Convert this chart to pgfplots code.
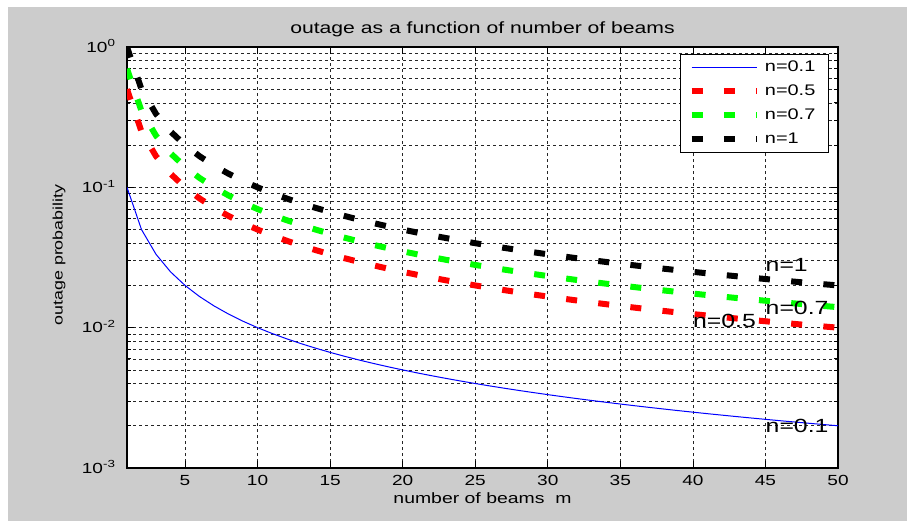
\documentclass[border=0pt]{standalone}
\usepackage{pgfplots}
\pgfplotsset{compat=1.18}
\usepackage{pgfplotstable}
\usepackage{fontspec}
\setmainfont[FakeStretch=1.3]{Liberation Sans}

\definecolor{figgrey}{RGB}{204,204,204}

% outage probability per number of beams m, one column per n
\pgfplotstableread{
m  a          b          c          d
1  0.1        0.5        0.7        1
2  0.05       0.25       0.35       0.5
3  0.033333   0.166667   0.233333   0.333333
4  0.025      0.125      0.175      0.25
5  0.02       0.1        0.14       0.2
6  0.016667   0.083333   0.116667   0.166667
7  0.014286   0.071429   0.1        0.142857
8  0.0125     0.0625     0.0875     0.125
9  0.011111   0.055556   0.077778   0.111111
10 0.01       0.05       0.07       0.1
11 0.0090909  0.0454545  0.0636364  0.0909091
12 0.0083333  0.0416667  0.0583333  0.0833333
13 0.0076923  0.0384615  0.0538462  0.0769231
14 0.0071429  0.0357143  0.05       0.0714286
15 0.0066667  0.0333333  0.0466667  0.0666667
16 0.00625    0.03125    0.04375    0.0625
17 0.0058824  0.0294118  0.0411765  0.0588235
18 0.0055556  0.0277778  0.0388889  0.0555556
19 0.0052632  0.0263158  0.0368421  0.0526316
20 0.005      0.025      0.035      0.05
21 0.0047619  0.0238095  0.0333333  0.047619
22 0.0045455  0.0227273  0.0318182  0.0454545
23 0.0043478  0.0217391  0.0304348  0.0434783
24 0.0041667  0.0208333  0.0291667  0.0416667
25 0.004      0.02       0.028      0.04
26 0.0038462  0.0192308  0.0269231  0.0384615
27 0.0037037  0.0185185  0.0259259  0.037037
28 0.0035714  0.0178571  0.025      0.0357143
29 0.0034483  0.0172414  0.0241379  0.0344828
30 0.0033333  0.0166667  0.0233333  0.0333333
31 0.0032258  0.016129   0.0225806  0.0322581
32 0.003125   0.015625   0.021875   0.03125
33 0.0030303  0.0151515  0.0212121  0.030303
34 0.0029412  0.0147059  0.0205882  0.0294118
35 0.0028571  0.0142857  0.02       0.0285714
36 0.0027778  0.0138889  0.0194444  0.0277778
37 0.0027027  0.0135135  0.0189189  0.027027
38 0.0026316  0.0131579  0.0184211  0.0263158
39 0.0025641  0.0128205  0.0179487  0.025641
40 0.0025     0.0125     0.0175     0.025
41 0.002439   0.0121951  0.0170732  0.0243902
42 0.002381   0.0119048  0.0166667  0.0238095
43 0.0023256  0.0116279  0.0162791  0.0232558
44 0.0022727  0.0113636  0.0159091  0.0227273
45 0.0022222  0.0111111  0.0155556  0.0222222
46 0.0021739  0.0108696  0.0152174  0.0217391
47 0.0021277  0.0106383  0.0148936  0.0212766
48 0.0020833  0.0104167  0.0145833  0.0208333
49 0.0020408  0.0102041  0.0142857  0.0204082
50 0.002      0.01       0.014      0.02
}\outage

\begin{document}
\begin{tikzpicture}
% figure window: white canvas, grey panel
\fill[white] (0,0) rectangle (687.75pt,391.5pt);
\fill[figgrey] (6pt,0.75pt) rectangle (680.25pt,386.25pt);
\begin{axis}[
    at={(95.25pt,40.5pt)}, anchor=south west,
    scale only axis,
    width=533.25pt, height=315.75pt,
    ymode=log,
    xmin=1, xmax=50,
    ymin=1e-3, ymax=1,
    xtick={5,10,15,20,25,30,35,40,45,50},
    xticklabels={5,10,15,20,25,30,35,40,45,50},
    ytick={0.001,0.01,0.1,1},
    yticklabels={10\smash{\textsuperscript{-3}},10\smash{\textsuperscript{-2}},10\smash{\textsuperscript{-1}},10\smash{\textsuperscript{0}}},
    tick label style={font=\fontsize{11}{13}\selectfont},
    xticklabel shift=2pt,
    yticklabel shift=5pt,
    grid=both,
    major grid style={black!85, line width=0.45pt, dash pattern=on 2.25pt off 2.25pt},
    minor grid style={black!85, line width=0.45pt, dash pattern=on 2.25pt off 2.25pt},
    tick align=inside,
    xtick pos=both, ytick pos=both,
    major tick length=5pt, minor tick length=3pt,
    tick style={black, line width=0.6pt},
    axis line style={black, line width=1pt},
    axis background/.style={fill=white},
    title={outage as a function of number of beams},
    every axis title shift=0pt,
    title style={at={(axis description cs:0.5,1.041)}, anchor=center, font=\fontsize{12.2}{14}\selectfont},
    xlabel={number of beams\ \ m},
    xlabel style={at={(axis description cs:0.5,-0.0713)}, anchor=center, font=\fontsize{11.2}{13}\selectfont},
    ylabel={outage probability},
    ylabel style={at={(axis description cs:-0.0956,0.506)}, anchor=center, font=\fontsize{10.3}{12}\selectfont},
    legend style={at={(axis description cs:0.9873,0.9834)}, anchor=north east,
        fill=white,
        font=\fontsize{11.5}{13}\selectfont,
        inner xsep=6pt, inner ysep=3pt, row sep=4.5pt,
        nodes={inner xsep=4pt, inner ysep=2pt}},
    legend cell align=left,
    legend image code/.code={\draw[#1] (0pt,0pt) -- (48.75pt,0pt);},
]
\addplot[draw=blue, line width=0.75pt] table[x=m, y=a] {\outage};
\addplot[draw=red, line width=4.5pt, dash pattern=on 8.25pt off 16pt] table[x=m, y=b] {\outage};
\addplot[draw=green, line width=4.5pt, dash pattern=on 8.25pt off 16pt] table[x=m, y=c] {\outage};
\addplot[draw=black, line width=4.5pt, dash pattern=on 8.25pt off 16pt] table[x=m, y=d] {\outage};
\legend{n=0.1, n=0.5, n=0.7, n=1}

\node[anchor=west, inner sep=0pt, font=\fontsize{14.3}{16}\selectfont] at (axis cs:45,0.028) {n=1};
\node[anchor=west, inner sep=0pt, font=\fontsize{14.3}{16}\selectfont] at (axis cs:45,0.0138) {n=0.7};
\node[anchor=west, inner sep=0pt, font=\fontsize{14.3}{16}\selectfont] at (axis cs:40,0.0111) {n=0.5};
\node[anchor=west, inner sep=0pt, font=\fontsize{14.3}{16}\selectfont] at (axis cs:45,0.002) {n=0.1};
\end{axis}
\pgfresetboundingbox
\path[use as bounding box] (0,0) rectangle (687.75pt,391.5pt);
\end{tikzpicture}
\end{document}
